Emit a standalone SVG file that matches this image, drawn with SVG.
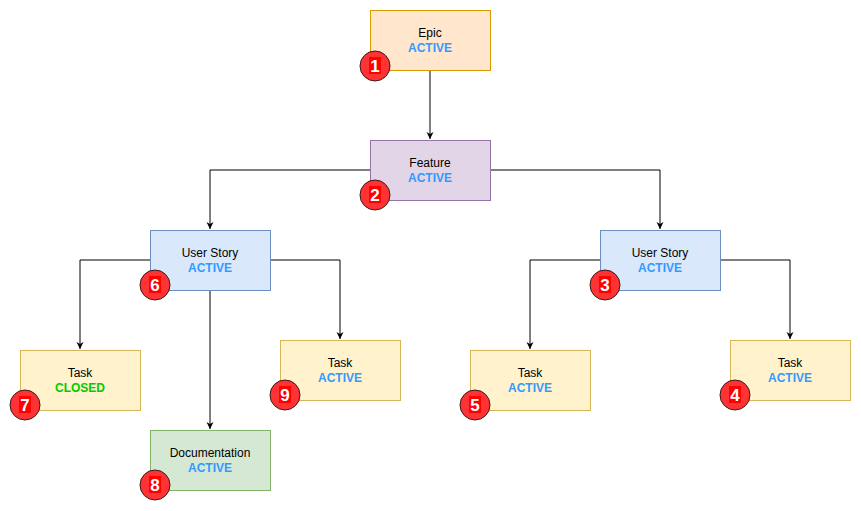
<svg xmlns="http://www.w3.org/2000/svg" width="861" height="511" viewBox="0 0 861 511">
<style>
text{font-family:"Liberation Sans",Arial,sans-serif;font-size:12px;text-anchor:middle}
.t{fill:#000}
.a{fill:#3399ff;font-weight:bold}
.c{fill:#00cc00;font-weight:bold}
.epic{fill:#ffe6cc;stroke:#d79b00}
.feat{fill:#e1d5e7;stroke:#9673a6}
.us{fill:#dae8fc;stroke:#6c8ebf}
.task{fill:#fff2cc;stroke:#d6b656}
.doc{fill:#d5e8d4;stroke:#82b366}
.bc{fill:#ff3333;stroke:#3a1a1a;stroke-width:1}
.bn{fill:#fff;font-weight:bold;font-size:17px}
.br{fill:#ff0000}
.edge{fill:none;stroke:#000;stroke-width:1;marker-end:url(#arr)}
</style>
<defs>
<marker id="arr" markerWidth="8" markerHeight="8" refX="7" refY="4" orient="auto" markerUnits="userSpaceOnUse">
<path d="M0,0.5 L7,4 L0,7.5 L2,4 Z" fill="#000"/>
</marker>
</defs>
<g id="connectors">
<path class="edge" d="M430,70 V139"/>
<path class="edge" d="M370,170 H210 V229"/>
<path class="edge" d="M490,170 H660 V229"/>
<path class="edge" d="M150,260 H80 V349"/>
<path class="edge" d="M210,290 V429"/>
<path class="edge" d="M270,260 H340 V339"/>
<path class="edge" d="M600,260 H530 V349"/>
<path class="edge" d="M720,260 H790 V339"/>
</g>
<g id="epic">
<rect class="epic" x="370.5" y="10.5" width="120" height="60"/>
<text class="t" x="430" y="37">Epic</text>
<text class="a" x="430" y="52">ACTIVE</text>
<circle class="bc" cx="375" cy="66" r="15"/><rect class="br" x="369" y="57" width="12" height="17"/><text class="bn" x="375" y="72">1</text>
</g>
<g id="feature">
<rect class="feat" x="370.5" y="140.5" width="120" height="60"/>
<text class="t" x="430" y="167">Feature</text>
<text class="a" x="430" y="182">ACTIVE</text>
<circle class="bc" cx="375" cy="195" r="15"/><rect class="br" x="369" y="186" width="12" height="17"/><text class="bn" x="375" y="201">2</text>
</g>
<g id="story-left">
<rect class="us" x="150.5" y="230.5" width="120" height="60"/>
<text class="t" x="210" y="257">User Story</text>
<text class="a" x="210" y="272">ACTIVE</text>
<circle class="bc" cx="155" cy="285" r="15"/><rect class="br" x="149" y="276" width="12" height="17"/><text class="bn" x="155" y="291">6</text>
</g>
<g id="story-right">
<rect class="us" x="600.5" y="230.5" width="120" height="60"/>
<text class="t" x="660" y="257">User Story</text>
<text class="a" x="660" y="272">ACTIVE</text>
<circle class="bc" cx="605" cy="285" r="15"/><rect class="br" x="599" y="276" width="12" height="17"/><text class="bn" x="605" y="291">3</text>
</g>
<g id="task-closed">
<rect class="task" x="20.5" y="350.5" width="120" height="60"/>
<text class="t" x="80" y="377">Task</text>
<text class="c" x="80" y="392">CLOSED</text>
<circle class="bc" cx="25" cy="405" r="15"/><rect class="br" x="19" y="396" width="12" height="17"/><text class="bn" x="25" y="411">7</text>
</g>
<g id="documentation">
<rect class="doc" x="150.5" y="430.5" width="120" height="60"/>
<text class="t" x="210" y="457">Documentation</text>
<text class="a" x="210" y="472">ACTIVE</text>
<circle class="bc" cx="155" cy="485" r="15"/><rect class="br" x="149" y="476" width="12" height="17"/><text class="bn" x="155" y="491">8</text>
</g>
<g id="task-9">
<rect class="task" x="280.5" y="340.5" width="120" height="60"/>
<text class="t" x="340" y="367">Task</text>
<text class="a" x="340" y="382">ACTIVE</text>
<circle class="bc" cx="285" cy="395" r="15"/><rect class="br" x="279" y="386" width="12" height="17"/><text class="bn" x="285" y="401">9</text>
</g>
<g id="task-5">
<rect class="task" x="470.5" y="350.5" width="120" height="60"/>
<text class="t" x="530" y="377">Task</text>
<text class="a" x="530" y="392">ACTIVE</text>
<circle class="bc" cx="475" cy="405" r="15"/><rect class="br" x="469" y="396" width="12" height="17"/><text class="bn" x="475" y="411">5</text>
</g>
<g id="task-4">
<rect class="task" x="730.5" y="340.5" width="120" height="60"/>
<text class="t" x="790" y="367">Task</text>
<text class="a" x="790" y="382">ACTIVE</text>
<circle class="bc" cx="735" cy="395" r="15"/><rect class="br" x="729" y="386" width="12" height="17"/><text class="bn" x="735" y="401">4</text>
</g>
</svg>
